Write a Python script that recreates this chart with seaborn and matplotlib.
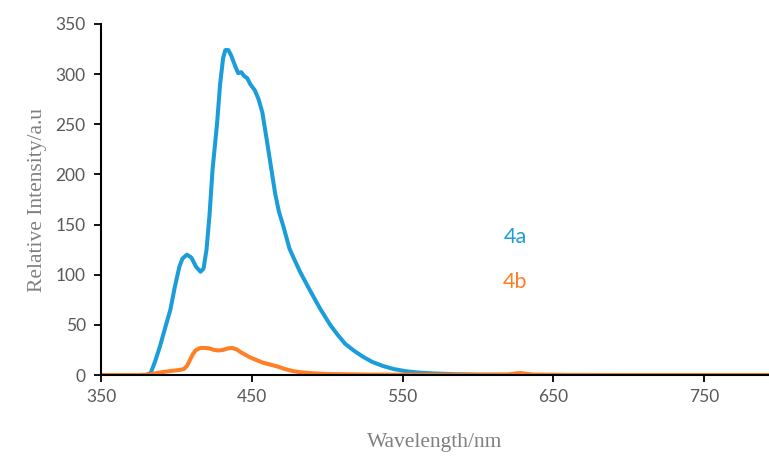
import numpy as np
import pandas as pd
import matplotlib
matplotlib.use("Agg")
import matplotlib.pyplot as plt
import seaborn as sns

# emission spectra
wl_4a = [350, 370, 380, 383, 386, 389, 392, 396, 399, 402, 404, 407, 410, 413, 416, 418,
         420, 422, 424, 427, 429, 431, 432.5, 434.5, 436.5, 439, 441, 443, 445, 447, 449,
         452, 454.5, 457, 460, 463, 465.5, 468, 471, 475, 478, 482, 488, 495, 502, 507,
         512, 518, 524, 530, 537, 544, 552, 560, 570, 585, 600, 620, 700, 793]
int_4a = [0, 0, 0, 2, 14, 28, 44, 65, 88, 108, 116, 120, 117, 108, 103, 106,
          125, 160, 205, 251, 290, 316, 324, 324, 318, 308, 301, 302, 298, 296, 290,
          284, 275, 262, 234, 205, 181, 163, 148, 126, 116, 103, 86, 67, 50, 40,
          31, 24, 18, 13, 9, 6, 3.8, 2.5, 1.6, 0.8, 0.4, 0.2, 0, 0]

wl_4b = [350, 375, 382, 391, 396, 402, 405, 407, 409, 411, 413, 416, 419, 422, 425, 428,
         431, 434, 437, 440, 443, 446, 449, 453, 457, 462, 467, 472, 477, 482, 490,
         500, 530, 600, 620, 625, 628, 631, 636, 660, 793]
int_4b = [0, 0, 0.5, 3, 4, 5, 6, 9, 15, 21, 25, 27, 27, 26.5, 25, 24.5,
          25, 26.5, 27, 25.5, 22.5, 20, 17.5, 15, 12.5, 10.5, 8.5, 6, 4, 2.8, 1.8,
          1, 0.4, 0.2, 0.5, 1.6, 2, 1.5, 0.4, 0, 0]

df = pd.concat([
    pd.DataFrame({"Wavelength": wl_4a, "Intensity": int_4a, "Sample": "4a"}),
    pd.DataFrame({"Wavelength": wl_4b, "Intensity": int_4b, "Sample": "4b"}),
])

sns.set_style("ticks")
fig = plt.figure(figsize=(7.69, 4.57), dpi=100)
ax = fig.add_axes([0.1313, 0.1794, 0.8687, 0.7681])

palette = {"4a": "#1B9DD9", "4b": "#FF7F27"}
sns.lineplot(data=df, x="Wavelength", y="Intensity", hue="Sample", palette=palette,
             linewidth=2.9, legend=False, ax=ax, estimator=None, sort=True)
for ln in ax.lines:
    ln.set_solid_joinstyle("round")
    ln.set_solid_capstyle("round")

ax.set_xlim(350, 793)
ax.set_ylim(0, 350)
ax.set_xticks([350, 450, 550, 650, 750])
ax.set_yticks(range(0, 351, 50))
for s in ["top", "right"]:
    ax.spines[s].set_visible(False)
for s in ["left", "bottom"]:
    ax.spines[s].set_color("black")
    ax.spines[s].set_linewidth(1.5)
ax.tick_params(axis="both", colors="black", labelcolor="#595959", labelsize=12.5,
               length=5, width=1.3, direction="out")
for lab in ax.get_xticklabels() + ax.get_yticklabels():
    lab.set_family(["Lato", "DejaVu Sans"])
ax.tick_params(axis="x", pad=5)
ax.tick_params(axis="y", pad=6)

ax.set_xlabel("Wavelength/nm", family=["Liberation Serif", "DejaVu Serif"], fontsize=15.5,
              color="#808080", labelpad=20)
ax.set_ylabel("Relative Intensity/a.u", family=["Liberation Serif", "DejaVu Serif"], fontsize=15.5,
              color="#808080", labelpad=6)

ax.text(624.7, 137.6, "4a", color=palette["4a"], fontsize=15.5, family=["Lato", "DejaVu Sans"],
        ha="center", va="center")
ax.text(624.7, 92.7, "4b", color=palette["4b"], fontsize=15.5, family=["Lato", "DejaVu Sans"],
        ha="center", va="center")

fig.savefig("out.png", dpi=100)
